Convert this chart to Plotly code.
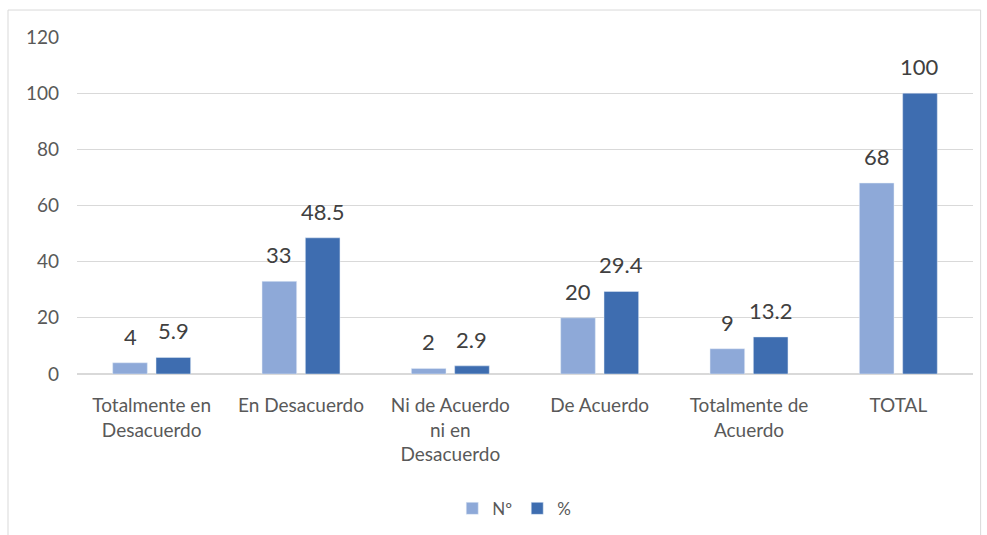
import plotly.graph_objects as go

categories = ["Totalmente en<br>Desacuerdo", "En Desacuerdo", "Ni de Acuerdo<br>ni en<br>Desacuerdo",
              "De Acuerdo", "Totalmente de<br>Acuerdo", "TOTAL"]
n_values = [4, 33, 2, 20, 9, 68]
pct_values = [5.9, 48.5, 2.9, 29.4, 13.2, 100]
n_labels = ["4", "33", "2", "20", "9", "68"]
pct_labels = ["5.9", "48.5", "2.9", "29.4", "13.2", "100"]
y_ticks = [0, 20, 40, 60, 80, 100, 120]

FONT = "Lato, 'Open Sans', sans-serif"
BARGAP = 0.42
PLOT_W = 987 - 77 - 14
SLOT_PX = PLOT_W / len(categories) * (1 - BARGAP) / 2

fig = go.Figure()
fig.add_trace(go.Bar(x=categories, y=n_values, name="Nº", marker_color="#8EA9D8"))
fig.add_trace(go.Bar(x=categories, y=pct_values, name="%", marker_color="#3E6DB0"))

for vals, labs, sign in ((n_values, n_labels, -1), (pct_values, pct_labels, 1)):
    for c, v, t in zip(categories, vals, labs):
        fig.add_annotation(x=c, y=v, text=t, showarrow=False, xanchor="center", yanchor="bottom",
                           xshift=sign * SLOT_PX / 2, yshift=11,
                           font=dict(size=22, color="#404040", family=FONT))

fig.update_layout(
    width=987, height=535,
    margin=dict(l=77, r=14, t=37, b=161, autoexpand=False),
    paper_bgcolor="white", plot_bgcolor="white",
    barmode="group", bargap=BARGAP, bargroupgap=0.2,
    font=dict(family=FONT, color="#595959", size=19),
    showlegend=True,
    legend=dict(orientation="h", x=0.488, xanchor="center", y=-0.40, yanchor="middle",
                font=dict(size=17, color="#595959"), itemwidth=30, traceorder="normal"),
)
fig.update_xaxes(showgrid=False, showline=False, ticks="", tickfont=dict(size=19, color="#595959"),
                 ticklabelstandoff=18, automargin=False)
fig.update_yaxes(range=[0, 120], tickvals=y_ticks, showgrid=True, gridcolor="#d9d9d9",
                 gridwidth=1, zeroline=True, zerolinecolor="#d9d9d9", showline=False,
                 tickfont=dict(size=19, color="#595959"), ticklabelstandoff=17, automargin=False)

fig.add_shape(type="rect", xref="paper", yref="paper", x0=-0.077, x1=1.0085, y0=-0.5, y1=1.080,
              line=dict(color="#d9d9d9", width=1), fillcolor="rgba(0,0,0,0)", layer="below")

fig.write_html("out.html")
